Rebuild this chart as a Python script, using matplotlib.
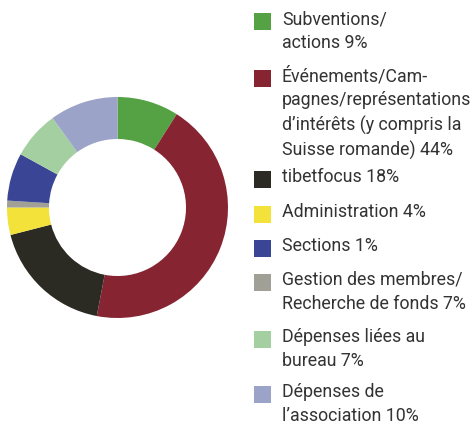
import matplotlib
matplotlib.use('Agg')
import matplotlib.pyplot as plt
from matplotlib.patches import Rectangle

# slice sizes (clockwise from 12 o'clock)
values = [9, 44, 18, 4, 1, 7, 7, 10]
ring_colors = ['#55a245', '#862531', '#2b2b24', '#f2e23a',
               '#a0a096', '#3a4595', '#a4cfa0', '#9ca3c8']

labels = [
    'Subventions/\nactions 9%',
    'Événements/Cam-\npagnes/représentations\nd\u2019intérêts (y compris la\nSuisse romande) 44%',
    'tibetfocus 18%',
    'Administration 4%',
    'Sections 1%',
    'Gestion des membres/\nRecherche de fonds 7%',
    'Dépenses liées au\nbureau 7%',
    'Dépenses de\nl\u2019association 10%',
]
legend_colors = ['#55a245', '#862531', '#2b2b24', '#f2e23a',
                 '#3a4595', '#a0a096', '#a4cfa0', '#9ca3c8']

W, H = 477, 426
fig = plt.figure(figsize=(W / 100, H / 100), dpi=100)

cx, cy, r = 117.5, 207.5, 110.5
ax = fig.add_axes([(cx - r) / W, (H - cy - r) / H, 2 * r / W, 2 * r / H])
ax.pie(values, colors=ring_colors, startangle=90, counterclock=False,
       radius=1, wedgeprops=dict(width=0.38, linewidth=0))
ax.set_xlim(-1, 1)
ax.set_ylim(-1, 1)
ax.set_aspect('equal')
ax.axis('off')

tops = [13, 70, 171, 206, 240, 274, 331, 386]
sq = 17
for top, lab, c in zip(tops, labels, legend_colors):
    fig.patches.append(Rectangle((254 / W, (H - top - sq) / H), sq / W, sq / H,
                                 transform=fig.transFigure, color=c, lw=0))
    fig.text(282 / W, (H - top + 3) / H, lab, ha='left', va='top',
             fontsize=12.8, family='Roboto', color='#333333',
             linespacing=1.42)

fig.savefig('out.png', dpi=100)
